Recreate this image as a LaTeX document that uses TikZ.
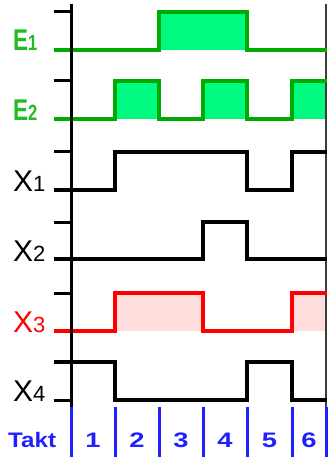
\documentclass[tikz,border=0pt]{standalone}
\usepackage{fontspec}
\setmainfont{Liberation Sans}
\definecolor{gline}{RGB}{0,170,0}
\definecolor{gtext}{RGB}{34,187,34}
\definecolor{gfill}{RGB}{0,250,128}
\definecolor{rfill}{RGB}{255,221,221}
\definecolor{rline}{RGB}{255,0,0}
\definecolor{tblue}{RGB}{32,32,255}
\definecolor{edge}{RGB}{60,60,60}
\begin{document}
\begin{tikzpicture}[x=1pt,y=-1pt,
  wave/.style={line width=3.2pt, line join=miter, line cap=butt},
  tickmark/.style={line width=3pt, black},
  elabel/.style={anchor=base west, inner sep=0pt, text=gtext, font=\bfseries, xscale=0.75},
  xlabel/.style={anchor=base west, inner sep=0pt},
  taktnum/.style={anchor=base, inner sep=0pt, text=tblue, font=\bfseries\fontsize{21}{21}\selectfont, xscale=1.3},
  bluebar/.style={line width=3pt, tblue}]
\useasboundingbox (0,0) rectangle (327,457);
% fills
\fill[gfill] (159,50) rectangle (247,12);
\fill[gfill] (115,119) rectangle (159,81);
\fill[gfill] (203,119) rectangle (247,81);
\fill[gfill] (292,119) rectangle (327,81);
\fill[rfill] (115,331) rectangle (203,293);
\fill[rfill] (292,331) rectangle (327,293);
% right edge
\draw[edge, line width=1.5pt] (326,4) -- (326,407);
% ticks
\foreach \y in {12,81,152,222,293} \draw[tickmark] (54,\y) -- (71,\y);
\draw[tickmark] (54,400) -- (71,400);
% waveforms
\draw[wave, gline] (54,50) -- (159,50) -- (159,12) -- (247,12) -- (247,50) -- (327,50);
\draw[wave, gline] (54,119) -- (115,119) -- (115,81) -- (159,81) -- (159,119) -- (203,119) -- (203,81) -- (247,81) -- (247,119) -- (292,119) -- (292,81) -- (327,81);
\draw[wave, black] (54,190) -- (115,190) -- (115,152) -- (247,152) -- (247,190) -- (292,190) -- (292,152) -- (327,152);
\draw[wave, black] (54,259) -- (203,259) -- (203,222) -- (247,222) -- (247,259) -- (327,259);
\draw[wave, rline] (54,331) -- (115,331) -- (115,293) -- (203,293) -- (203,331) -- (292,331) -- (292,293) -- (327,293);
\draw[wave, black] (54,362) -- (115,362) -- (115,400) -- (247,400) -- (247,362) -- (292,362) -- (292,400) -- (327,400);
% axis
\draw[line width=3pt, black] (71,4) -- (71,407);
% blue takt lines
\foreach \x in {71,115,159,203,247,292,326} \draw[bluebar] (\x,407) -- (\x,457);
% labels
\node[elabel] (lE1) at (13,51) {\fontsize{30}{30}\selectfont E\fontsize{22}{22}\selectfont 1};
\node[elabel] (lE2) at (13,121) {\fontsize{30}{30}\selectfont E\fontsize{22}{22}\selectfont 2};
\node[xlabel] (lX1) at (13,191) {\fontsize{30}{30}\selectfont X\fontsize{22}{22}\selectfont 1};
\node[xlabel] (lX2) at (13,261) {\fontsize{30}{30}\selectfont X\fontsize{22}{22}\selectfont 2};
\node[xlabel, text=rline] (lX3) at (13,332) {\fontsize{30}{30}\selectfont X\fontsize{22}{22}\selectfont 3};
\node[xlabel] (lX4) at (13,401) {\fontsize{30}{30}\selectfont X\fontsize{22}{22}\selectfont 4};
\node[anchor=base west, inner sep=0pt, text=tblue, font=\bfseries\fontsize{21}{21}\selectfont, xscale=1.15] (takt) at (8,447) {Takt};
\node[taktnum] (t1) at (93,447) {1};
\node[taktnum] (t2) at (137,447) {2};
\node[taktnum] (t3) at (181,447) {3};
\node[taktnum] (t4) at (225,447) {4};
\node[taktnum] (t5) at (269.5,447) {5};
\node[taktnum] (t6) at (309,447) {6};
\end{tikzpicture}
\end{document}
